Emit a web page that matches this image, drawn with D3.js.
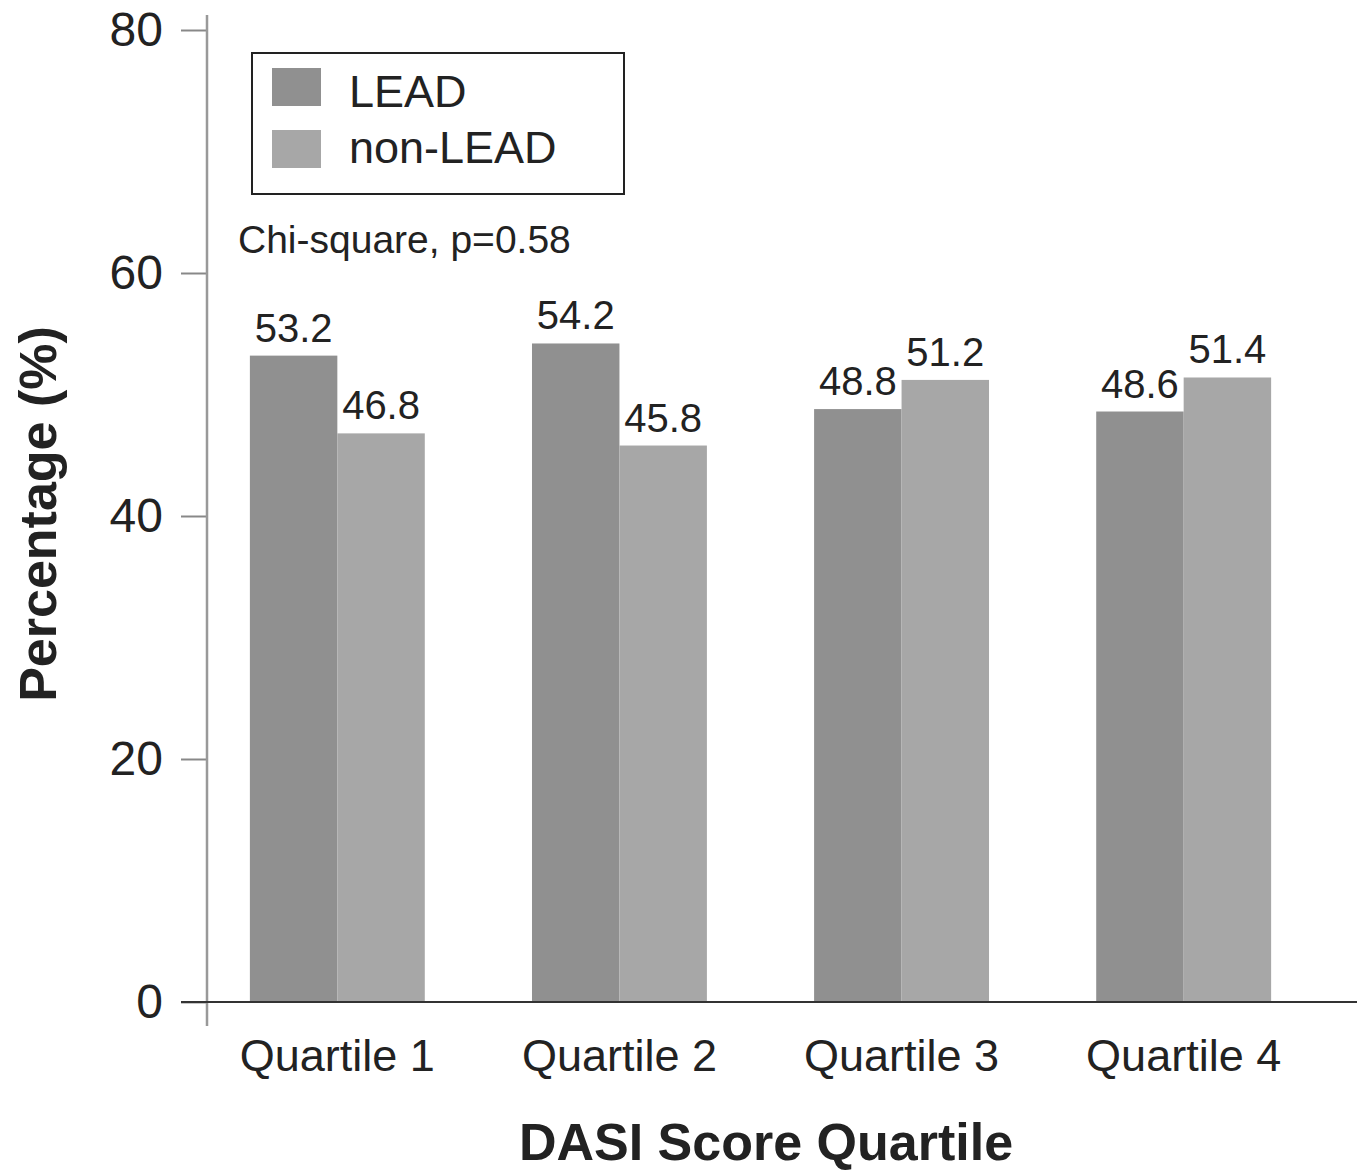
<!DOCTYPE html>
<html>
<head>
<meta charset="utf-8">
<script src="https://cdn.jsdelivr.net/npm/d3@7"></script>
<style>
  html, body { margin: 0; padding: 0; background: #fff; }
  svg { display: block; font-family: "Liberation Sans", Arial, sans-serif; }
</style>
</head>
<body>
<svg id="chart" width="1365" height="1171"></svg>
<script>
const categories = ["Quartile 1", "Quartile 2", "Quartile 3", "Quartile 4"];
const seriesNames = ["LEAD", "non-LEAD"];
const leadValues = [53.2, 54.2, 48.8, 48.6];
const nonLeadValues = [46.8, 45.8, 51.2, 51.4];
const valueLabels = [["53.2", "46.8"], ["54.2", "45.8"], ["48.8", "51.2"], ["48.6", "51.4"]];
const yTicks = [0, 20, 40, 60, 80];
const colors = ["#909090", "#a7a7a7"];

const svg = d3.select("#chart");

const y = d3.scaleLinear().domain([0, 80]).range([1002, 30]);
const x0 = d3.scaleBand().domain(categories).range([207, 1314]).paddingInner(0.38).paddingOuter(0.152);
const x1 = d3.scaleBand().domain(seriesNames).range([0, x0.bandwidth()]).padding(0);

const data = categories.map((c, i) => ({
  cat: c,
  vals: [
    { s: seriesNames[0], v: leadValues[i], label: valueLabels[i][0] },
    { s: seriesNames[1], v: nonLeadValues[i], label: valueLabels[i][1] }
  ]
}));

// Bars
const groups = svg.append("g").selectAll("g").data(data).join("g")
  .attr("transform", d => `translate(${x0(d.cat)},0)`);
groups.selectAll("rect").data(d => d.vals).join("rect")
  .attr("x", d => x1(d.s))
  .attr("y", d => y(d.v))
  .attr("width", x1.bandwidth())
  .attr("height", d => y(0) - y(d.v))
  .attr("fill", (d, i) => colors[i]);
groups.selectAll("text").data(d => d.vals).join("text")
  .attr("x", d => x1(d.s) + x1.bandwidth() / 2)
  .attr("y", d => y(d.v) - 14)
  .attr("text-anchor", "middle")
  .attr("font-size", 40)
  .attr("fill", "#222")
  .text(d => d.label);

// Y axis
const yAxis = svg.append("g").attr("transform", "translate(207,0)")
  .call(d3.axisLeft(y).tickValues(yTicks).tickSize(26).tickPadding(18));
yAxis.select(".domain").remove();
yAxis.selectAll(".tick line").attr("stroke", "#888").attr("stroke-width", 2);
yAxis.selectAll(".tick text").attr("font-size", 48).attr("fill", "#222")
  .attr("font-family", "Liberation Sans, Arial, sans-serif");
svg.append("line").attr("x1", 207).attr("x2", 207).attr("y1", 15).attr("y2", 1026)
  .attr("stroke", "#999").attr("stroke-width", 2.5);

// X axis baseline
svg.append("line").attr("x1", 181).attr("x2", 1357).attr("y1", y(0)).attr("y2", y(0))
  .attr("stroke", "#333").attr("stroke-width", 2);
const xAxis = svg.append("g").attr("transform", `translate(0,${y(0)})`)
  .call(d3.axisBottom(x0).tickSize(0).tickPadding(37));
xAxis.select(".domain").remove();
xAxis.selectAll(".tick text").attr("font-size", 45).attr("fill", "#222")
  .attr("font-family", "Liberation Sans, Arial, sans-serif");

// Axis titles
svg.append("text").attr("transform", "translate(56,514) rotate(-90)")
  .attr("text-anchor", "middle").attr("font-size", 52).attr("font-weight", "bold")
  .attr("fill", "#222").text("Percentage (%)");
svg.append("text").attr("x", 766).attr("y", 1160)
  .attr("text-anchor", "middle").attr("font-size", 52).attr("font-weight", "bold")
  .attr("fill", "#222").text("DASI Score Quartile");

// Legend
const legend = svg.append("g");
legend.append("rect").attr("x", 252).attr("y", 53).attr("width", 372).attr("height", 141)
  .attr("fill", "none").attr("stroke", "#222").attr("stroke-width", 2);
seriesNames.forEach((s, i) => {
  legend.append("rect").attr("x", 272).attr("y", 68 + i * 62).attr("width", 49).attr("height", 38)
    .attr("fill", colors[i]);
  legend.append("text").attr("x", 349).attr("y", 107 + i * 56)
    .attr("font-size", 45).attr("fill", "#222").text(s);
});

// Annotation
svg.append("text").attr("x", 238).attr("y", 253).attr("font-size", 39).attr("fill", "#222")
  .text("Chi-square, p=0.58");
</script>
</body>
</html>
